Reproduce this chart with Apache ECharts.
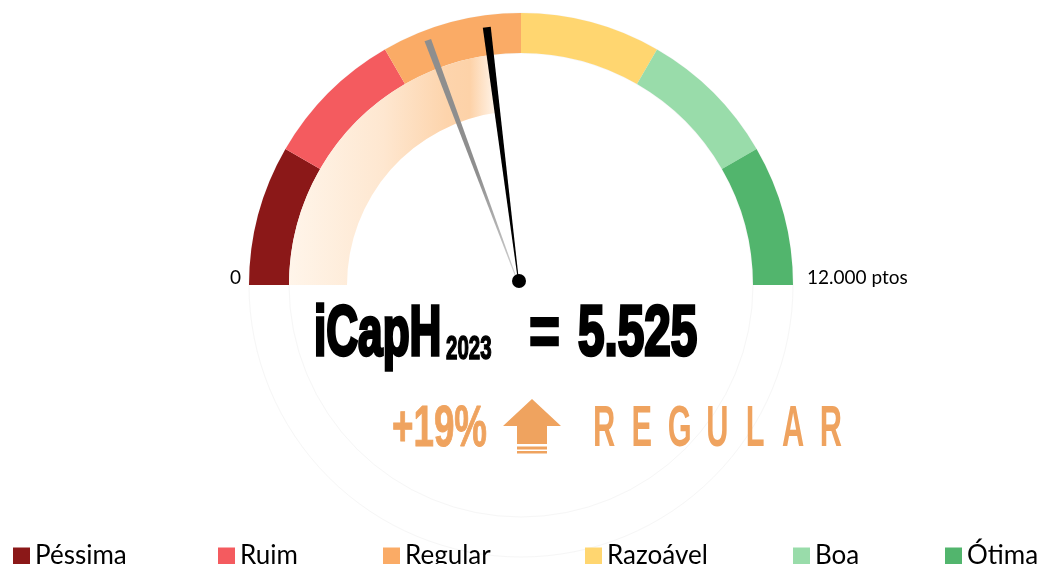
<!DOCTYPE html>
<html><head><meta charset="utf-8">
<script src="https://cdn.jsdelivr.net/npm/echarts@6/dist/echarts.min.js"></script>
<style>html,body{margin:0;padding:0;background:#fff}#c{width:1053px;height:564px}</style>
</head><body><div id="c"></div>
<script>
// ---- data ----
const categories = ['Péssima', 'Ruim', 'Regular', 'Razoável', 'Boa', 'Ótima'];
const categoryColors = ['#8B1818', '#F45B5F', '#FAAB66', '#FFD670', '#99DCAA', '#52B56D'];
const categoryRanges = [2000, 2000, 2000, 2000, 2000, 2000];
const scaleMin = 0, scaleMax = 12000;
const scaleLabels = ['0', '12.000 ptos'];
const years = ['2023', '2022'];
const yearValues = [5525, 4640];
const yearColors = ['#000000', '#8E8E8E'];
const indexName = 'iCapH';
const accent = '#EFA35F';

// ---- derived ----
const fmt = v => String(v).replace(/\B(?=(\d{3})+(?!\d))/g, '.');
const change = Math.round((yearValues[0] / yearValues[1] - 1) * 100);
let acc = scaleMin, catIdx = 0;
for (let i = 0; i < categoryRanges.length; i++) { acc += categoryRanges[i]; if (yearValues[0] < acc) { catIdx = i; break; } }
const statusWord = categories[catIdx].toUpperCase();

// ---- layout ----
const CX = 521, CY = 285;
const R_OUT = 272, R_IN = 232, PROG_W = 58;
const FONT = 'Lato';
const legendLeft = [13, 218, 383, 585, 793, 945];
const PIVOT = [-2, -4];

const chart = echarts.init(document.getElementById('c'));

const bigFont = 'bold 70px "Liberation Sans"';
const graphics = [
  { type: 'circle', z: 0, silent: true, shape: { cx: CX, cy: CY, r: R_IN }, style: { fill: 'none', stroke: '#f6f6f6', lineWidth: 1 } },
  { type: 'circle', z: 0, silent: true, shape: { cx: CX, cy: CY, r: R_OUT }, style: { fill: 'none', stroke: '#f6f6f6', lineWidth: 1 } },
  { type: 'text', x: 314, y: 336, scaleX: 0.63, style: { text: indexName, font: bigFont, fill: '#000', stroke: '#000', lineWidth: 3.5, textAlign: 'left', textVerticalAlign: 'middle' } },
  { type: 'text', x: 446, y: 350, scaleX: 0.62, style: { text: years[0], font: 'bold 33px "Liberation Sans"', fill: '#000', stroke: '#000', lineWidth: 1.5, textAlign: 'left', textVerticalAlign: 'middle' } },
  { type: 'text', x: 529, y: 336, scaleX: 0.76, style: { text: '=', font: bigFont, fill: '#000', stroke: '#000', lineWidth: 2.5, textAlign: 'left', textVerticalAlign: 'middle' } },
  { type: 'text', x: 578, y: 336, scaleX: 0.68, style: { text: fmt(yearValues[0]), font: bigFont, fill: '#000', stroke: '#000', lineWidth: 3.5, textAlign: 'left', textVerticalAlign: 'middle' } },
  { type: 'text', x: 392, y: 430, scaleX: 0.645, style: { text: (change >= 0 ? '+' : '') + change + '%', font: 'bold 57px "Liberation Sans"', fill: accent, stroke: accent, lineWidth: 1, textAlign: 'left', textVerticalAlign: 'middle' } },
  { type: 'polygon', silent: true, shape: { points: [[532, 399], [561, 426], [547, 426], [547, 444], [517, 444], [517, 426], [503, 426]] }, style: { fill: accent } },
  { type: 'rect', silent: true, shape: { x: 517, y: 446.5, width: 30, height: 3 }, style: { fill: accent } },
  { type: 'rect', silent: true, shape: { x: 517, y: 451, width: 30, height: 2.5 }, style: { fill: accent } }
];
statusWord.split('').forEach((ch, i) => {
  graphics.push({ type: 'text', x: 604 + i * 37.8, y: 430, scaleX: 0.54, style: { text: ch, font: 'bold 57px "Liberation Sans"', fill: accent, textAlign: 'center', textVerticalAlign: 'middle' } });
});

const legends = categories.map((c, i) => ({
  data: [c], left: legendLeft[i], top: 543, padding: 0, icon: 'rect', itemWidth: 17, itemHeight: 17,
  selectedMode: false, textStyle: { fontFamily: FONT, fontSize: 26, color: '#000' }
}));
legends.push({
  data: years, left: 978, top: 59, padding: 0, orient: 'vertical', itemGap: 35, icon: 'rect',
  itemWidth: 17, itemHeight: 17, selectedMode: false, textStyle: { fontFamily: FONT, fontSize: 23, color: '#000' }
});

const gaugeBase = {
  type: 'gauge', center: [CX, CY], radius: R_IN,
  startAngle: 180, endAngle: 0, min: scaleMin, max: scaleMax, splitNumber: 1,
  axisLine: { show: false },
  splitLine: { show: false, length: 0, distance: 0 },
  axisTick: { show: false },
  title: { show: false }, detail: { show: false }
};

chart.setOption({
  animation: false,
  backgroundColor: '#fff',
  legend: legends,
  graphic: graphics,
  series: [
    {
      type: 'pie', name: 'Faixas', z: 1, center: [CX, CY], radius: [R_IN, R_OUT],
      startAngle: 180, endAngle: 0, clockwise: true, silent: true,
      label: { show: false }, labelLine: { show: false }, emphasis: { disabled: true },
      itemStyle: { borderWidth: 0 },
      data: categories.map((c, i) => ({ name: c, value: categoryRanges[i], itemStyle: { color: categoryColors[i] } }))
    },
    Object.assign({}, gaugeBase, {
      name: 'Progresso', z: 2,
      axisLabel: {
        show: true, distance: R_IN - 399, color: '#000', padding: [0, 0, 15, 0],
        formatter: v => (v === scaleMin ? '{l|' + scaleLabels[0] + '}' : '{r|' + scaleLabels[1] + '}'),
        rich: {
          l: { width: 119, align: 'right', fontFamily: FONT, fontSize: 19, color: '#000' },
          r: { width: 113, align: 'left', fontFamily: FONT, fontSize: 19, color: '#000' }
        }
      },
      progress: { show: true, width: PROG_W, overlap: true, roundCap: false },
      pointer: { show: false },
      anchor: { show: false },
      data: [{
        name: years[0], value: yearValues[0], itemStyle: { color: yearColors[0] },
        progress: { itemStyle: { color: { type: 'linear', x: 0, y: 0, x2: 1, y2: 0, colorStops: [
          { offset: 0, color: '#FFF5EA' }, { offset: 0.45, color: '#FEE7D0' }, { offset: 0.75, color: '#FDD4AC' },
          { offset: 0.86, color: '#FDD2A8' }, { offset: 1, color: '#FFF9F3' }] } } }
      }]
    }),
    Object.assign({}, gaugeBase, {
      name: 'Ponteiros', z: 5,
      axisLabel: { show: false },
      progress: { show: false },
      pointer: { show: true, icon: 'path://M0,0 L10,0 L5.6,100 L4.4,100 Z', length: 255, width: 8, offsetCenter: PIVOT },
      anchor: { show: true, showAbove: true, size: 14, offsetCenter: PIVOT, itemStyle: { color: '#000' } },
      data: years.map((y, i) => ({
        name: y, value: yearValues[i], itemStyle: { color: yearColors[i] },
        pointer: i === 0 ? { width: 8, length: 256, itemStyle: { color: yearColors[i] } } : {
          width: 7, length: 258, itemStyle: { color: { type: 'linear', x: 0, y: 0, x2: 0, y2: 1, colorStops: [
            { offset: 0, color: yearColors[i] }, { offset: 0.55, color: yearColors[i] }, { offset: 1, color: '#d6d6d6' }] } }
        }
      }))
    })
  ]
});
</script></body></html>
